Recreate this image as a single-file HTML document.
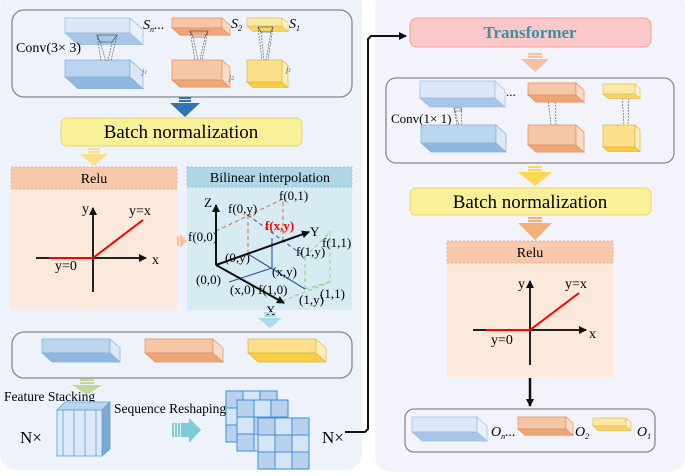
<!DOCTYPE html>
<html><head><meta charset="utf-8"><style>
body{margin:0;width:685px;height:476px;overflow:hidden;background:#fff}
svg{display:block;font-family:"Liberation Serif",serif}
</style></head><body>
<svg id="s" width="685" height="476" viewBox="0 0 685 476">
<defs>
<marker id="ah" markerWidth="8" markerHeight="8" refX="7" refY="4" orient="auto" markerUnits="userSpaceOnUse"><path d="M0,0 L8,4 L0,8 z" fill="#111"/></marker>
</defs>
<rect x="0" y="-10" width="362" height="480" rx="16" fill="#eef2fa"/>
<rect x="375" y="-10" width="310" height="482" rx="16" fill="#f3f3fb"/>

<rect x="12" y="10" width="340" height="87" rx="12" fill="none" stroke="#8a8a8a" stroke-width="1.3"/>
<g id="p1"></g>
<text x="16" y="52" font-size="14">Conv(3× 3)</text>
<text x="143" y="29" font-size="14" font-style="italic">S<tspan font-size="8" dy="3">n</tspan><tspan dy="-3">...</tspan></text>
<text x="231" y="28" font-size="14" font-style="italic">S<tspan font-size="8" dy="3">2</tspan></text>
<text x="289" y="28" font-size="14" font-style="italic">S<tspan font-size="8" dy="3">1</tspan></text>
<g stroke="#555" stroke-width="0.6" stroke-dasharray="2,1" fill="none">
<path d="M97,35 L117,35 L112,42 L100,42 z" stroke-dasharray="none" stroke="#333"/>
<path d="M97,35 L101,61 M117,35 L111,61 M100,42 L106,61 M112,42 L108,61"/>
<path d="M190,31 L208,31 L205,37 L193,37 z" stroke-dasharray="none" stroke="#333"/>
<path d="M190,31 L195,60 M208,31 L202,60 M193,37 L198,60 M205,37 L200,60"/>
<path d="M258,27 L273,27 L271,32 L261,32 z" stroke-dasharray="none" stroke="#333"/>
<path d="M258,27 L262,60 M273,27 L268,60 M261,32 L264,60 M271,32 L266,60"/>
</g>
<text x="142" y="74" font-size="8" font-style="italic" fill="#666">j<tspan font-size="6">1</tspan></text>
<text x="229" y="80" font-size="8" font-style="italic" fill="#666">j<tspan font-size="6">2</tspan></text>
<text x="286" y="72" font-size="8" font-style="italic" fill="#666">j<tspan font-size="6">1</tspan></text>

<g fill="#2e75b6"><rect x="179" y="97" width="12" height="2"/><rect x="179" y="100" width="12" height="2"/><path d="M170,103 L200,103 L185,117 z"/></g>
<rect x="61" y="118" width="241" height="28" rx="6" fill="#f9f09a" stroke="#e6d96a"/>
<text x="181" y="138" font-size="19" text-anchor="middle">Batch normalization</text>
<g fill="#fbe08a"><rect x="88" y="148" width="12" height="2"/><rect x="88" y="151" width="12" height="2"/><path d="M80,154 L108,154 L94,166 z"/></g>

<rect x="11" y="167" width="166" height="143" fill="#fbe9dc"/>
<rect x="11" y="167" width="166" height="22" fill="#f7c9aa" stroke="#e8a27a" stroke-dasharray="2,2" stroke-width="0.7"/>
<text x="94" y="183" font-size="14" text-anchor="middle">Relu</text>
<line x1="36" y1="258" x2="146" y2="258" stroke="#222" stroke-width="2" marker-end="url(#ah)"/>
<line x1="93" y1="292" x2="93" y2="208" stroke="#222" stroke-width="2" marker-end="url(#ah)"/>
<polyline points="49,258 93,258 143,220" fill="none" stroke="#f00" stroke-width="2"/>
<text x="82" y="213" font-size="14">y</text><text x="129" y="215" font-size="14">y=x</text>
<text x="152" y="264" font-size="14">x</text><text x="55" y="270" font-size="14">y=0</text>
<g fill="#f7c0a0"><rect x="177" y="236" width="2" height="10"/><path d="M180,234 L187,241 L180,248 z"/></g>

<rect x="187" y="167" width="165" height="143" fill="#d6ebf2"/>
<rect x="187" y="167" width="165" height="20" fill="#aed8e6" stroke="#7fb8d0" stroke-dasharray="2,2" stroke-width="0.7"/>
<text x="270" y="182" font-size="14" text-anchor="middle">Bilinear interpolation</text>
<g fill="none" stroke-width="1.1" stroke-dasharray="4,3">
<path d="M216,231 L283,199 L283,243 M248,215 L248,254" stroke="#d8783a"/>
<path d="M248,215 L305,257" stroke="#4060c0"/>
<path d="M305,257 L330,232 L330,282 L280,302 M305,289 L330,282 M305,257 L305,289" stroke="#9ccc80"/>
</g>
<g stroke="#3050b0" stroke-width="1.1" fill="none"><path d="M248,254 L305,289 M229,282 L272,268 L272,238"/></g>
<g stroke="#111" stroke-width="2"><line x1="216" y1="265" x2="216" y2="205" marker-end="url(#ah)"/><line x1="216" y1="265" x2="309" y2="232" marker-end="url(#ah)"/><line x1="216" y1="265" x2="284" y2="303" marker-end="url(#ah)"/></g>
<g font-size="13">
<text x="204" y="207">Z</text><text x="279" y="200">f(0,1)</text><text x="228" y="213">f(0,y)</text>
<text x="265" y="230" fill="#f00" font-weight="bold">f(x,y)</text><text x="310" y="236">Y</text>
<text x="322" y="247">f(1,1)</text><text x="188" y="241">f(0,0)</text><text x="225" y="262">(0,y)</text>
<text x="296" y="256">f(1,y)</text><text x="272" y="276">(x,y)</text><text x="196" y="284">(0,0)</text>
<text x="230" y="294">(x,0) f(1,0)</text><text x="320" y="298">(1,1)</text><text x="299" y="304">(1,y)</text>
<text x="266" y="315">X</text></g>
<g fill="#a8dce8"><rect x="264" y="312" width="12" height="2"/><rect x="264" y="315" width="12" height="2"/><path d="M258,318 L282,318 L270,328 z"/></g>

<rect x="12" y="332" width="340" height="46" rx="12" fill="none" stroke="#8a8a8a" stroke-width="1.3"/>
<g fill="#c3d79a"><rect x="80" y="379" width="14" height="2"/><rect x="80" y="382" width="14" height="2"/><path d="M72,385 L102,385 L87,395 z"/></g>
<text x="4" y="401" font-size="13.5">Feature Stacking</text>
<text x="20" y="443" font-size="17">N×</text>
<polygon points="57,410 65,402 110,402 102,410" fill="#bcd5ee" stroke="#5aa0e0" stroke-width="0.8"/>
<polygon points="102,410 110,402 110,449 102,456" fill="#7fa8d0" stroke="#5aa0e0" stroke-width="0.8"/>
<rect x="57" y="410" width="45" height="46" fill="#dde9f6" stroke="#5aa0e0" stroke-width="0.8"/>
<g stroke="#5aa0e0" stroke-width="0.8"><line x1="63" y1="410" x2="63" y2="456"/><line x1="74" y1="410" x2="74" y2="456"/><line x1="85" y1="410" x2="85" y2="456"/><line x1="96" y1="410" x2="96" y2="456"/></g>
<g fill="#7ecad8"><rect x="172" y="423" width="2" height="14"/><rect x="175" y="423" width="2" height="14"/><rect x="178" y="423" width="2" height="14"/><rect x="181" y="423" width="8" height="14"/><path d="M189,418 L201,430 L189,443 z"/></g>
<g id="grids"></g>
<text x="114" y="413" font-size="13.5">Sequence Reshaping</text>
<text x="322" y="443" font-size="17">N×</text>
<polyline points="345,432 365,432 368,429 368,39 371,36 406,36" fill="none" stroke="#111" stroke-width="2" marker-end="url(#ah)"/>

<rect x="410" y="18" width="241" height="29" rx="7" fill="#fbc9c9" stroke="#f0a0a0"/>
<text x="530" y="38" font-size="17" font-weight="bold" fill="#3f8ea0" text-anchor="middle">Transformer</text>
<g fill="#f7c0a0"><rect x="528" y="53" width="14" height="2"/><rect x="528" y="56" width="14" height="2"/><path d="M521,59 L549,59 L535,72 z"/></g>
<rect x="386" y="78" width="288" height="85" rx="10" fill="none" stroke="#8a8a8a" stroke-width="1.3"/>
<text x="391" y="123" font-size="13">Conv(1× 1)</text>
<text x="506" y="96" font-size="13">...</text>
<g stroke="#555" stroke-width="0.6" stroke-dasharray="2,1" fill="none">
<path d="M454,108 L461,108 L462,111 L455,111 z" stroke-dasharray="none"/><path d="M454,108 L457,125 M461,108 L462,125 M455,111 L459,125"/>
<path d="M548,99 L555,99 L556,102 L549,102 z" stroke-dasharray="none"/><path d="M548,99 L551,125 M555,99 L556,125"/>
<path d="M622,95 L629,95 L630,98 L623,98 z" stroke-dasharray="none"/><path d="M622,95 L624,125 M629,95 L628,125"/>
</g>
<g fill="#fdd653"><rect x="528" y="166" width="14" height="2"/><rect x="528" y="169" width="14" height="2"/><path d="M518,172 L552,172 L535,186 z"/></g>
<rect x="410" y="188" width="241" height="27" rx="6" fill="#f9f09a" stroke="#e6d96a"/>
<text x="530" y="208" font-size="19" text-anchor="middle">Batch normalization</text>
<g fill="#f3b07a"><rect x="528" y="217" width="14" height="2"/><rect x="528" y="220" width="14" height="2"/><path d="M518,223 L552,223 L535,240 z"/></g>
<rect x="447" y="241" width="166" height="136" fill="#fbe9dc"/>
<rect x="447" y="241" width="166" height="22" fill="#f7c9aa" stroke="#e8a27a" stroke-dasharray="2,2" stroke-width="0.7"/>
<text x="530" y="257" font-size="14" text-anchor="middle">Relu</text>
<line x1="473" y1="330" x2="586" y2="330" stroke="#222" stroke-width="2" marker-end="url(#ah)"/>
<line x1="530" y1="365" x2="530" y2="281" stroke="#222" stroke-width="2" marker-end="url(#ah)"/>
<polyline points="486,330 530,330 579,293" fill="none" stroke="#f00" stroke-width="2"/>
<text x="518" y="288" font-size="14">y</text><text x="565" y="288" font-size="14">y=x</text>
<text x="589" y="338" font-size="14">x</text><text x="491" y="344" font-size="14">y=0</text>
<line x1="530" y1="378" x2="530" y2="406" stroke="#111" stroke-width="2.5" marker-end="url(#ah)"/>
<rect x="405" y="409" width="250" height="43" rx="9" fill="none" stroke="#8a8a8a" stroke-width="1.3"/>
<text x="491" y="436" font-size="14" font-style="italic">O<tspan font-size="8" dy="3">n</tspan><tspan dy="-3">...</tspan></text>
<text x="575" y="436" font-size="14" font-style="italic">O<tspan font-size="8" dy="3">2</tspan></text>
<text x="637" y="436" font-size="14" font-style="italic">O<tspan font-size="8" dy="3">1</tspan></text>
<g id="p2"></g>
</svg>
<script>
var NS="http://www.w3.org/2000/svg";
function poly(g,pts,f,st){var p=document.createElementNS(NS,"polygon");p.setAttribute("points",pts.map(function(a){return a.join(",")}).join(" "));p.setAttribute("fill",f);p.setAttribute("stroke",st);p.setAttribute("stroke-width","0.7");g.appendChild(p);}
var C={b:["#dce8f5","#a8c6e8","#e8f0fa","#9ebde0"],B:["#bcd5ee","#90b7e0","#dce8f5","#8ab0d8"],o:["#f7c6a6","#eda678","#fbdcc6","#e09060"],y:["#fce9a8","#f5d46a","#fdf3cc","#e6c050"],Y:["#fde08a","#f7cd45","#fdeeb8","#e0b840"]};
function prism(g,x,y,w,h,d,c){var k=C[c],e=d*0.9;
poly(g,[[x,y],[x+w,y],[x+w,y+h],[x,y+h]],k[0],k[3]);
poly(g,[[x,y+h],[x+w,y+h],[x+w+d,y+h+e],[x+d,y+h+e]],k[1],k[3]);
poly(g,[[x+w,y],[x+w+d,y+e],[x+w+d,y+h+e],[x+w,y+h]],k[2],k[3]);}
var g=document.getElementById("p1");
prism(g,65,18,65,15,13,"b");prism(g,65,60,65,17,13,"B");
prism(g,172,18,50,10,8,"o");prism(g,172,60,50,20,8,"o");
prism(g,247,18,35,8,6,"y");prism(g,247,60,35,22,6,"Y");
prism(g,42,339,68,14,10,"B");prism(g,145,339,68,14,10,"o");prism(g,248,339,68,14,10,"Y");
var h=document.getElementById("p2");
prism(h,420,81,75,17,10,"b");prism(h,421,125,75,18,10,"B");
prism(h,528,83,48,12,8,"o");prism(h,528,125,48,20,8,"o");
prism(h,603,84,32,10,5,"y");prism(h,603,125,32,22,5,"Y");
prism(h,412,417,65,15,10,"b");prism(h,518,417,48,12,7,"o");prism(h,593,418,33,8,5,"y");
var gr=document.getElementById("grids");
[[226,391],[237,400],[258,418]].forEach(function(p){for(var i=0;i<3;i++)for(var j=0;j<3;j++){var r=document.createElementNS(NS,"rect");r.setAttribute("x",p[0]+j*17);r.setAttribute("y",p[1]+i*17);r.setAttribute("width",17);r.setAttribute("height",17);r.setAttribute("fill",(i+j)%2?"#d6e5f5":"#b8d2ee");r.setAttribute("stroke","#3d8fd8");r.setAttribute("stroke-width","1");gr.appendChild(r);}});
</script>
</body></html>
